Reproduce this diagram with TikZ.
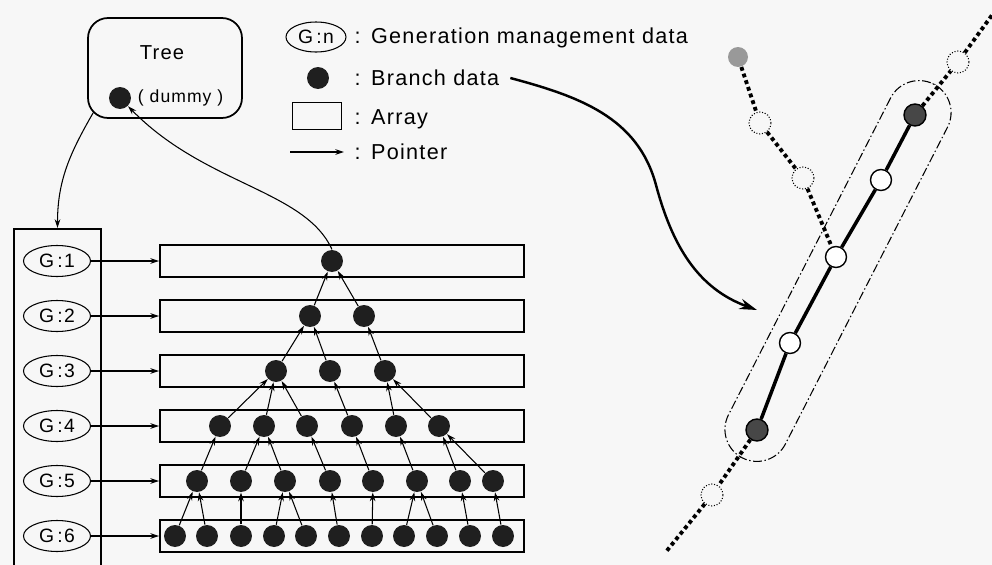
\documentclass[tikz,border=0pt]{standalone}
\usepackage{fontspec}
\setmainfont{Liberation Sans}[LetterSpace=6]
\usetikzlibrary{positioning,calc,arrows.meta,shapes.geometric}
\tikzset{>={Stealth[length=5pt,width=3.2pt]}}

\begin{document}
\begin{tikzpicture}[x=0.02cm,y=0.02cm,line width=0.6pt,
  bdot/.style={circle,fill=black!88,inner sep=0pt,minimum size=0.44cm},
  genell/.style={ellipse,draw,inner sep=0pt,minimum width=1.34cm,minimum height=0.62cm,font=\fontsize{11}{13}\selectfont},
  arrbox/.style={draw,line width=1.1pt,inner sep=0pt,minimum width=7.28cm,minimum height=0.64cm},
  legtext/.style={anchor=west,inner sep=0pt,font=\fontsize{12.3}{14}\selectfont},
  ghostc/.style={circle,draw,densely dotted,inner sep=0pt,minimum size=0.44cm},
  openc/.style={circle,draw,fill=white,line width=0.8pt,inner sep=0pt,minimum size=0.42cm},
  darkc/.style={circle,draw,fill=black!72,line width=0.8pt,inner sep=0pt,minimum size=0.44cm},
  dotline/.style={line width=2.2pt,dash pattern=on 2.2pt off 1.8pt}]
\useasboundingbox[fill=black!3] (0,0) rectangle (992,-565);

% tree root with dummy branch
\node[draw,line width=1pt,rounded corners=0.4cm,minimum width=3.08cm,minimum height=2cm] (tree) at (165,-68) {};
\node[font=\fontsize{11.5}{13}\selectfont] (treelab) at (162,-53) {Tree};
\node[bdot] (dummy) at (120,-98) {};
\node[right=0pt of dummy,font=\fontsize{10}{12}\selectfont] (dummylab) {( dummy )};

% generation management column and arrays
\node[draw,line width=1pt,minimum width=1.74cm,minimum height=7.6cm,anchor=north] (col) at (57.5,-228) {};
\foreach \n in {1,...,6}{
  \node[genell] (g\n) at (57,{-261-55*(\n-1)}) {G\,:\n};
  \node[arrbox] (a\n) at (342,{-261-55*(\n-1)}) {};
  \draw[->] (g\n) -- (a\n);
}

% branch data per generation
\foreach \x [count=\i] in {332} \node[bdot] (r1-\i) at (\x,-261) {};
\foreach \x [count=\i] in {310,364} \node[bdot] (r2-\i) at (\x,-316) {};
\foreach \x [count=\i] in {276,330,385} \node[bdot] (r3-\i) at (\x,-371) {};
\foreach \x [count=\i] in {220,264,307,352,396,439} \node[bdot] (r4-\i) at (\x,-426) {};
\foreach \x [count=\i] in {197,241,285,330,373,417,460,493} \node[bdot] (r5-\i) at (\x,-481) {};
\foreach \x [count=\i] in {175,207,241,274,306,339,372,404,437,470,503} \node[bdot] (r6-\i) at (\x,-536) {};

\foreach \c/\p in {1/1,2/1} \draw[->] (r2-\c) -- (r1-\p);
\foreach \c/\p in {1/1,2/1,3/2} \draw[->] (r3-\c) -- (r2-\p);
\foreach \c/\p in {1/1,2/1,3/1,4/2,5/3,6/3} \draw[->] (r4-\c) -- (r3-\p);
\foreach \c/\p in {1/1,2/2,3/2,4/3,5/4,6/5,7/6,8/6} \draw[->] (r5-\c) -- (r4-\p);
\foreach \c/\p in {1/1,2/1,3/2,4/3,5/3,6/4,7/5,8/6,9/6,10/7,11/8} \draw[->] (r6-\c) -- (r5-\p);

\draw[->] ($(tree.south west)+(6,6)$) to[out=240,in=90] (col.north);
\draw[->] (r1-1.north) .. controls (305,-190) and (205,-185) .. (dummy);

% legend
\node[genell,minimum width=1.2cm,minimum height=0.6cm] (lgen) at (316,-37) {G\,:n};
\node[legtext] (lgentxt) at (354,-38) {:\hspace{6pt}Generation management data};
\node[bdot] (ldot) at (318,-78) {};
\node[legtext] (lbrtxt) at (354,-78) {:\hspace{6pt}Branch data};
\node[draw,line width=1pt,minimum width=0.98cm,minimum height=0.54cm] (larr) at (317,-116) {};
\node[legtext] (larrtxt) at (354,-119) {:\hspace{6pt}Array};
\coordinate (lp1) at (290,-152);
\coordinate (lp2) at (344,-152);
\draw[->] (lp1) -- (lp2);
\node[legtext] (lpttxt) at (354,-152) {:\hspace{6pt}Pointer};

% branch data in the real tree
\coordinate (bend) at (656,-185);
\coordinate (tip) at (757,-310);
\draw[line width=1.4pt,-{Stealth[length=10pt,width=6pt]}] ([xshift=6pt]lbrtxt.east) to[out=-15,in=105] (bend) to[out=-75,in=160] (tip);

\node[circle,fill=black!40,inner sep=0pt,minimum size=0.4cm] (seed) at (738,-57) {};
\node[ghostc] (d1) at (760,-123) {};
\node[ghostc] (d2) at (803,-178) {};
\node[ghostc] (d3) at (958,-62) {};
\node[ghostc] (d4) at (712,-495) {};
\node[darkc] (k1) at (757,-430) {};
\node[darkc] (k2) at (915,-115) {};
\node[openc] (o1) at (790,-343) {};
\node[openc] (o2) at (836,-257) {};
\node[openc] (o3) at (881,-180) {};
\coordinate (up) at (995,-11);
\coordinate (down) at (665,-553);
\draw[dotline] (seed) -- (d1) -- (d2) -- (o2);
\draw[dotline] (k2) -- (d3) -- (up);
\draw[dotline] (k1) -- (d4) -- (down);
\draw[line width=2pt] (k1) -- (o1) -- (o2) -- (o3) -- (k2);
\node[draw,dash pattern=on 5pt off 1.5pt on 0.8pt off 1.5pt,rounded corners=0.64cm,minimum width=8.4cm,minimum height=1.28cm,rotate=62.9] (grp) at (838,-271) {};
\end{tikzpicture}
\end{document}
